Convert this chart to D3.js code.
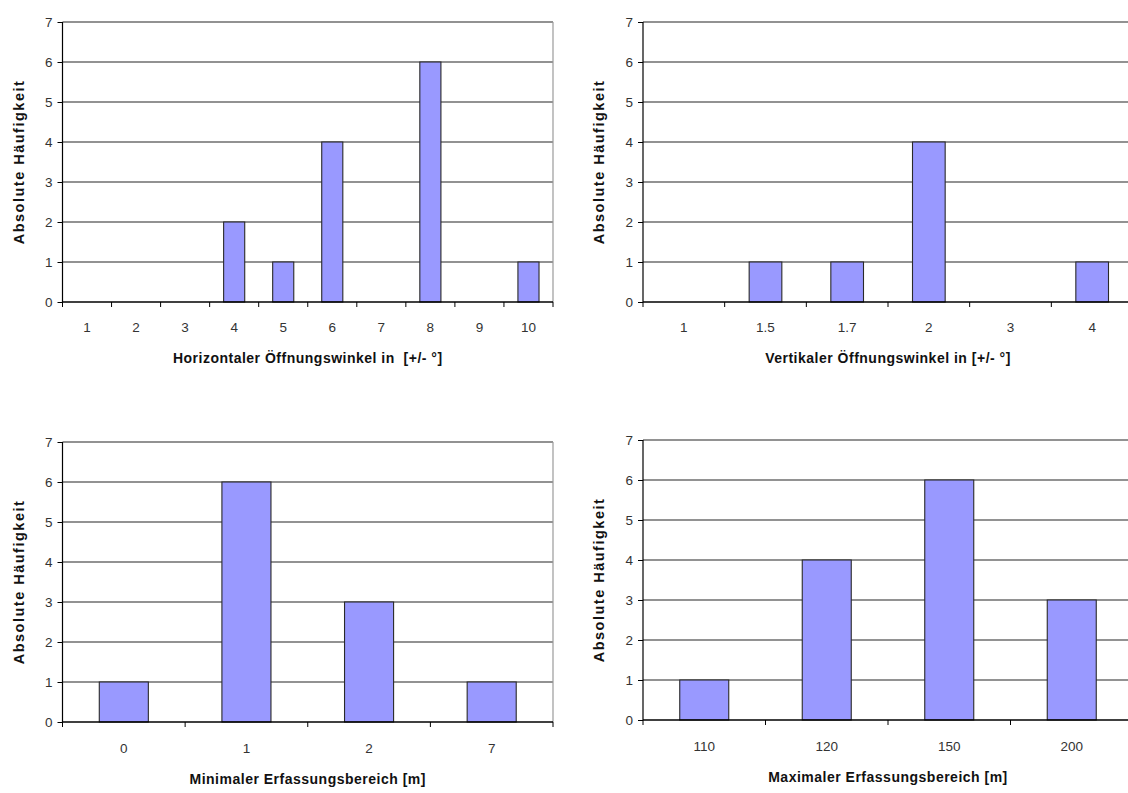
<!DOCTYPE html>
<html>
<head>
<meta charset="utf-8">
<script src="https://cdn.jsdelivr.net/npm/d3@7"></script>
<style>
  html, body { margin: 0; padding: 0; background: #fff; }
  svg { display: block; }
  .tick-label { font-family: "Liberation Sans Narrow", "Liberation Sans", Arial, sans-serif; font-size: 13.5px; fill: #333; }
  .ytitle { font-family: "Liberation Sans", Arial, sans-serif; font-size: 14.5px; font-weight: bold; fill: #111; letter-spacing: 1.5px; }
  .xtitle { font-family: "Liberation Sans Narrow", "Liberation Sans", Arial, sans-serif; font-size: 14px; font-weight: bold; fill: #111; letter-spacing: 0.5px; white-space: pre; }
</style>
</head>
<body>
<svg id="chart" width="1128" height="793"></svg>
<script>
// ---- Data ----
const yTicks = [0, 1, 2, 3, 4, 5, 6, 7];
const yTitle = "Absolute Häufigkeit";

const horizCategories = ["1", "2", "3", "4", "5", "6", "7", "8", "9", "10"];
const horizValues     = [0, 0, 0, 2, 1, 4, 0, 6, 0, 1];
const horizTitle = "Horizontaler Öffnungswinkel in  [+/- °]";

const vertCategories = ["1", "1.5", "1.7", "2", "3", "4"];
const vertValues     = [0, 1, 1, 4, 0, 1];
const vertTitle = "Vertikaler Öffnungswinkel in [+/- °]";

const minCategories = ["0", "1", "2", "7"];
const minValues     = [1, 6, 3, 1];
const minTitle = "Minimaler Erfassungsbereich [m]";

const maxCategories = ["110", "120", "150", "200"];
const maxValues     = [1, 4, 6, 3];
const maxTitle = "Maximaler Erfassungsbereich [m]";

// ---- Drawing ----
const svg = d3.select("#chart");

function drawPanel(opts) {
  const { cats, vals, title, left, right, top, bottom, barRatio, yTitleX, tickLabelY, xTitleY, rightBorder } = opts;
  const g = svg.append("g");

  const x = d3.scaleBand().domain(cats).range([left, right]).paddingInner(0).paddingOuter(0);
  const y = d3.scaleLinear().domain([0, 7]).range([bottom, top]);

  // gridlines
  g.selectAll("line.grid").data(yTicks.filter(d => d > 0)).enter().append("line")
    .attr("x1", left).attr("x2", right)
    .attr("y1", d => y(d)).attr("y2", d => y(d))
    .attr("stroke", "#6e6e6e").attr("stroke-width", 1.4);

  if (rightBorder) {
    g.append("line").attr("x1", right).attr("x2", right).attr("y1", top).attr("y2", bottom)
      .attr("stroke", "#9a9a9a").attr("stroke-width", 1.2);
  }

  // bars
  const bw = x.bandwidth() * barRatio;
  g.selectAll("rect.bar").data(cats.map((c, i) => ({ c, v: vals[i] })).filter(d => d.v > 0)).enter().append("rect")
    .attr("x", d => x(d.c) + (x.bandwidth() - bw) / 2)
    .attr("y", d => y(d.v))
    .attr("width", bw)
    .attr("height", d => y(0) - y(d.v))
    .attr("fill", "#9999ff")
    .attr("stroke", "#2a2a2a")
    .attr("stroke-width", 1.1);

  // y axis
  const yAxis = d3.axisLeft(y).tickValues(yTicks).tickSize(5).tickPadding(5).tickFormat(d3.format("d"));
  const ya = g.append("g").attr("transform", `translate(${left},0)`).call(yAxis);
  ya.select(".domain").attr("stroke", "#000").attr("stroke-width", 1.2).attr("d", `M0,${top}V${bottom}`);
  ya.selectAll(".tick line").attr("stroke", "#000");
  ya.selectAll(".tick text").attr("class", "tick-label");
  ya.attr("font-size", null).attr("font-family", null);

  // x axis: ticks at category boundaries, labels centered
  const bounds = cats.map(c => x(c)).concat([right]);
  g.append("line").attr("x1", left).attr("x2", right).attr("y1", bottom).attr("y2", bottom)
    .attr("stroke", "#000").attr("stroke-width", 1.3);
  g.selectAll("line.xtick").data(bounds).enter().append("line")
    .attr("x1", d => d).attr("x2", d => d)
    .attr("y1", bottom).attr("y2", bottom + 5)
    .attr("stroke", "#000").attr("stroke-width", 1);
  g.selectAll("text.xlab").data(cats).enter().append("text")
    .attr("class", "tick-label")
    .attr("x", d => x(d) + x.bandwidth() / 2)
    .attr("y", tickLabelY)
    .attr("text-anchor", "middle")
    .attr("dominant-baseline", "central")
    .text(d => d);

  // titles
  g.append("text").attr("class", "xtitle")
    .attr("x", (left + right) / 2)
    .attr("y", xTitleY)
    .attr("text-anchor", "middle").attr("dominant-baseline", "central")
    .text(title);

  g.append("text").attr("class", "ytitle")
    .attr("transform", `translate(${yTitleX},${(top + bottom) / 2}) rotate(-90)`)
    .attr("text-anchor", "middle").attr("dominant-baseline", "central")
    .text(yTitle);
}

drawPanel({ cats: horizCategories, vals: horizValues, title: horizTitle,
  left: 62.5, right: 553, top: 22, bottom: 302, barRatio: 0.43,
  yTitleX: 19, tickLabelY: 327, xTitleY: 358, rightBorder: true });

drawPanel({ cats: vertCategories, vals: vertValues, title: vertTitle,
  left: 643, right: 1133, top: 22, bottom: 302, barRatio: 0.4,
  yTitleX: 599, tickLabelY: 327, xTitleY: 358, rightBorder: false });

drawPanel({ cats: minCategories, vals: minValues, title: minTitle,
  left: 62.5, right: 553, top: 442, bottom: 722, barRatio: 0.4,
  yTitleX: 19, tickLabelY: 748, xTitleY: 779, rightBorder: true });

drawPanel({ cats: maxCategories, vals: maxValues, title: maxTitle,
  left: 643, right: 1133, top: 440, bottom: 720, barRatio: 0.4,
  yTitleX: 599, tickLabelY: 746, xTitleY: 777, rightBorder: false });
</script>
</body>
</html>
